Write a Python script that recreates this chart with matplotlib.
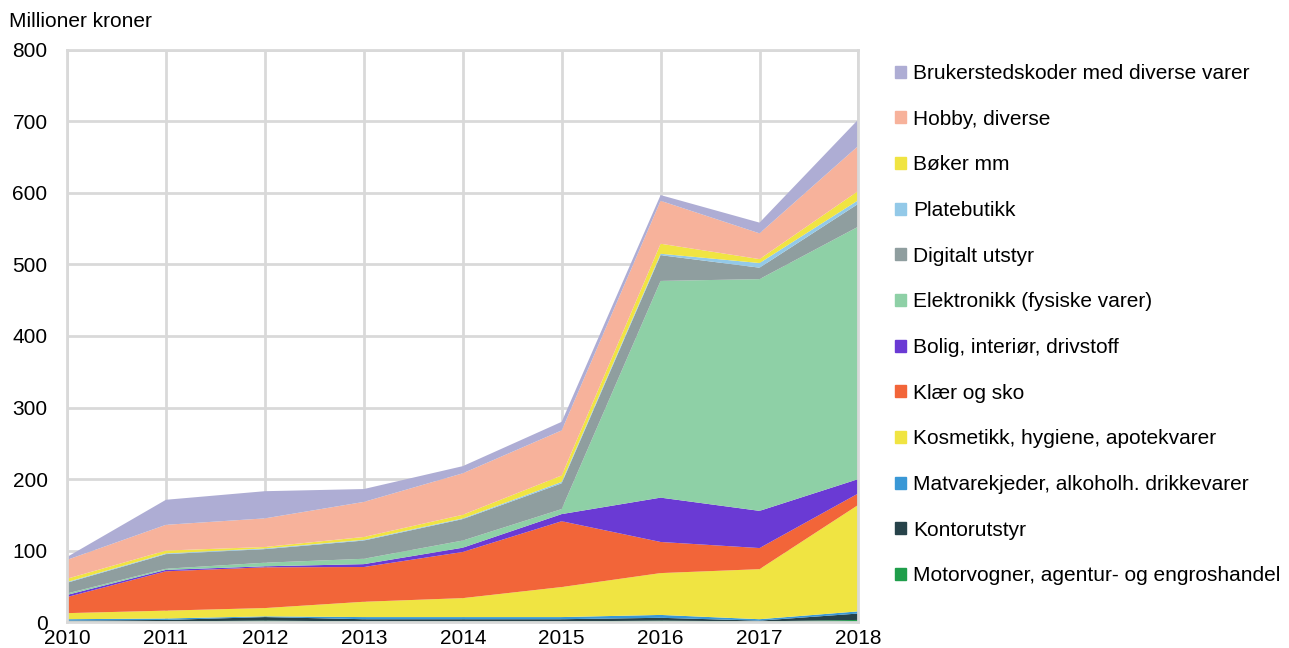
import matplotlib
matplotlib.use('Agg')
import matplotlib.pyplot as plt
from matplotlib.patches import Patch

plt.rcParams['font.family'] = ['Liberation Sans', 'DejaVu Sans']

years = [2010, 2011, 2012, 2013, 2014, 2015, 2016, 2017, 2018]

# stack order, bottom to top (millioner kroner)
motorvogner = [1, 1, 2, 1, 1, 1, 2, 1, 3]
kontorutstyr = [1, 2, 5, 3, 3, 3, 4, 1, 9]
matvare = [2, 2, 1, 3, 3, 3, 4, 2, 3]
kosmetikk = [8.5, 11, 11.6, 21.4, 26.5, 42, 58.5, 70, 149]
klaer = [22.5, 55, 57, 48.6, 64.5, 92, 43.5, 29.5, 16]
bolig = [3, 2, 1.4, 4, 6, 10, 62, 52, 20]
elektronikk = [2, 1.6, 5, 7.5, 10, 7, 303, 324, 353]
digitalt = [15, 20.4, 19, 25.5, 30, 36, 36, 16, 32]
platebutikk = [1, 1, 1, 1, 1, 2, 2, 6.5, 5]
boker = [4.6, 4, 2, 4, 5, 9, 14, 5.5, 13]
hobby = [26.4, 36, 40, 49, 58, 63, 60, 36, 63]
brukersted = [4, 35, 38, 18, 10, 12, 8, 15, 37]

labels = ['Motorvogner, agentur- og engroshandel', 'Kontorutstyr',
          'Matvarekjeder, alkoholh. drikkevarer', 'Kosmetikk, hygiene, apotekvarer',
          'Klær og sko', 'Bolig, interiør, drivstoff', 'Elektronikk (fysiske varer)',
          'Digitalt utstyr', 'Platebutikk', 'Bøker mm', 'Hobby, diverse',
          'Brukerstedskoder med diverse varer']
colors = ['#1F9E4B', '#27434A', '#3A98D6', '#F0E442', '#F26539', '#6A3AD4',
          '#8ED0A6', '#8F9E9F', '#93C9E8', '#F0E442', '#F7B29B', '#AEADD4']

series = [motorvogner, kontorutstyr, matvare, kosmetikk, klaer, bolig,
          elektronikk, digitalt, platebutikk, boker, hobby, brukersted]

fig = plt.figure(figsize=(12.89, 6.48), dpi=100)
ax = fig.add_axes([0.052, 0.040, 0.614, 0.883])
ax.stackplot(years, *series, colors=colors, linewidth=0)

ax.set_xlim(2010, 2018)
ax.set_ylim(0, 800)
ax.set_xticks(years)
ax.set_yticks(range(0, 801, 100))
ax.grid(True, color='#D9D9D9', linewidth=2)
ax.set_axisbelow(True)
for s in ax.spines.values():
    s.set_color('#D9D9D9')
    s.set_linewidth(2)
ax.tick_params(length=0, labelsize=15)
ax.tick_params(axis='y', pad=14)
ax.tick_params(axis='x', pad=5)
fig.text(0.007, 0.967, 'Millioner kroner', fontsize=15, va='center')

handles = [Patch(color=c, label=l) for c, l in zip(colors, labels)][::-1]
fig.legend(handles=handles, loc='upper left', bbox_to_anchor=(0.680, 0.930),
           frameon=False, fontsize=15, handlelength=0.5, handleheight=0.5,
           handletextpad=0.35, labelspacing=1.28)

fig.savefig('out.png', dpi=100)
